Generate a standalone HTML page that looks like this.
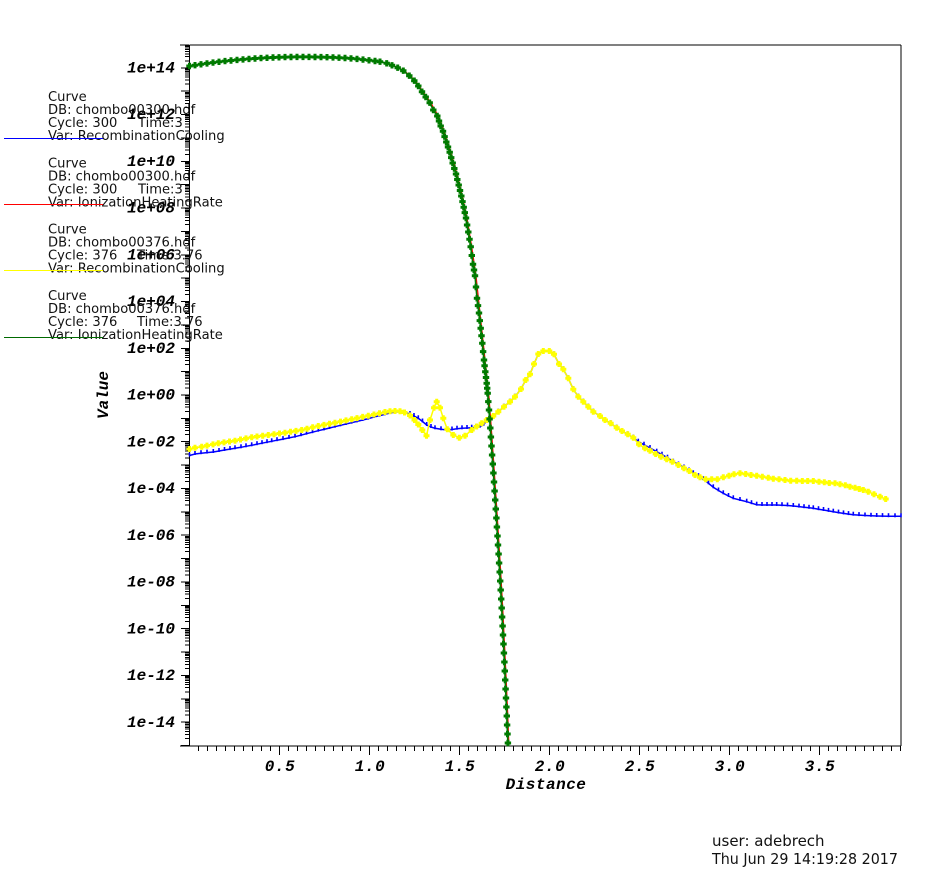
<!DOCTYPE html>
<html><head><meta charset="utf-8"><style>
html,body{margin:0;padding:0;background:#fff;}
svg{display:block;}
.lg{font-family:"DejaVu Sans","Liberation Sans",sans-serif;font-size:13.1px;fill:#111;}
.ax{font-family:"Liberation Mono",monospace;font-weight:bold;font-style:italic;font-size:16px;letter-spacing:0px;fill:#000;}
.ft{font-family:"DejaVu Sans","Liberation Sans",sans-serif;font-size:15px;fill:#111;}
</style></head><body>
<svg width="950" height="878" viewBox="0 0 950 878" xmlns="http://www.w3.org/2000/svg">
<defs>
<marker id="mY" markerUnits="userSpaceOnUse" markerWidth="10" markerHeight="10" refX="0" refY="0" overflow="visible"><path d="M-1.5,-3h3v1.5h1.5v3h-1.5v1.5h-3v-1.5h-1.5v-3h1.5z" fill="#ffff00"/></marker>
<marker id="mG" markerUnits="userSpaceOnUse" markerWidth="10" markerHeight="10" refX="0" refY="0" overflow="visible"><path d="M-1.5,-3.2h3v1.7h1.7v3h-1.7v1.7h-3v-1.7h-1.7v-3h1.7z" fill="#007a00"/></marker>
<marker id="mB" markerUnits="userSpaceOnUse" markerWidth="10" markerHeight="10" refX="0" refY="0" overflow="visible"><rect x="-0.8" y="-3" width="1.6" height="4" fill="#0000ff"/></marker>
<marker id="mR" markerUnits="userSpaceOnUse" markerWidth="10" markerHeight="10" refX="0" refY="0" overflow="visible"><rect x="-1" y="-1" width="2" height="2" fill="#ff0000"/></marker>
<g id="dec" stroke="#000" stroke-width="1" shape-rendering="crispEdges">
<path d="M181,0h8M185,-7.03h4M185,-11.15h4M185,-14.07h4M185,-16.33h4M185,-18.18h4M185,-19.75h4M185,-21.1h4M185,-22.3h4"/>
</g>
<g id="xm" stroke="#000" stroke-width="1" shape-rendering="crispEdges">
<path d="M9,746v5M18,746v5M27,746v5M36,746v5M45,746v5M54,746v5M63,746v5M72,746v5M81,746v5"/>
</g>
</defs>

<!-- frame -->
<g stroke="#000" stroke-width="1" fill="none" shape-rendering="crispEdges">
<path d="M189.5,45V746M189.5,45H901M901,45V746M180,746H901"/>
</g>

<!-- y ticks -->
<use href="#dec" y="745.55"/>
<use href="#dec" y="722.18"/>
<use href="#dec" y="698.81"/>
<use href="#dec" y="675.44"/>
<use href="#dec" y="652.07"/>
<use href="#dec" y="628.7"/>
<use href="#dec" y="605.33"/>
<use href="#dec" y="581.96"/>
<use href="#dec" y="558.59"/>
<use href="#dec" y="535.22"/>
<use href="#dec" y="511.85"/>
<use href="#dec" y="488.48"/>
<use href="#dec" y="465.11"/>
<use href="#dec" y="441.74"/>
<use href="#dec" y="418.37"/>
<use href="#dec" y="395"/>
<use href="#dec" y="371.63"/>
<use href="#dec" y="348.26"/>
<use href="#dec" y="324.89"/>
<use href="#dec" y="301.52"/>
<use href="#dec" y="278.15"/>
<use href="#dec" y="254.78"/>
<use href="#dec" y="231.41"/>
<use href="#dec" y="208.04"/>
<use href="#dec" y="184.67"/>
<use href="#dec" y="161.3"/>
<use href="#dec" y="137.93"/>
<use href="#dec" y="114.56"/>
<use href="#dec" y="91.19"/>
<use href="#dec" y="67.82"/>
<path d="M180,45h9" stroke="#000" shape-rendering="crispEdges"/>

<!-- x ticks -->
<use href="#xm" x="189.5"/>
<use href="#xm" x="279.5"/>
<use href="#xm" x="369.5"/>
<use href="#xm" x="459.5"/>
<use href="#xm" x="549.5"/>
<use href="#xm" x="639.5"/>
<use href="#xm" x="729.5"/>
<use href="#xm" x="819.5"/>
<path d="M279.5,746v9M369.5,746v9M459.5,746v9M549.5,746v9M639.5,746v9M729.5,746v9M819.5,746v9" stroke="#000" shape-rendering="crispEdges"/>

<!-- y labels -->
<g class="ax" text-anchor="end">
<text x="175" y="72.5">1e+14</text>
<text x="175" y="119.2">1e+12</text>
<text x="175" y="166">1e+10</text>
<text x="175" y="212.7">1e+08</text>
<text x="175" y="259.5">1e+06</text>
<text x="175" y="306.2">1e+04</text>
<text x="175" y="353">1e+02</text>
<text x="175" y="399.7">1e+00</text>
<text x="175" y="446.4">1e-02</text>
<text x="175" y="493.2">1e-04</text>
<text x="175" y="539.9">1e-06</text>
<text x="175" y="586.7">1e-08</text>
<text x="175" y="633.4">1e-10</text>
<text x="175" y="680.1">1e-12</text>
<text x="175" y="726.9">1e-14</text>
</g>
<!-- x labels -->
<g class="ax" text-anchor="middle" style="letter-spacing:0.6px">
<text x="280" y="771">0.5</text>
<text x="370" y="771">1.0</text>
<text x="460" y="771">1.5</text>
<text x="550" y="771">2.0</text>
<text x="640" y="771">2.5</text>
<text x="730" y="771">3.0</text>
<text x="820" y="771">3.5</text>
</g>
<text class="ax" x="546" y="789" text-anchor="middle" style="letter-spacing:0.5px">Distance</text>
<text class="ax" transform="translate(108,395) rotate(-90)" x="0" y="0" text-anchor="middle">Value</text>

<!-- blue: RecombinationCooling cycle 300 -->
<polyline fill="none" stroke="#0000ff" stroke-width="1.5" marker-start="url(#mB)" marker-mid="url(#mB)" marker-end="url(#mB)" points="189.5,455.5 195,454 201,453.2 207,452.6 213.3,452 219,451 224.5,450 230,449.1 235,448.3 241,447.3 246,446.3 251.7,445.3 257,444.2 262,443.2 267,442.2 271.7,441.3 277,440.2 283,439.1 289,437.9 295,436.7 301,435.2 306.5,433.7 312.5,432.2 318.3,430.7 324,429.4 329.5,428 335,426.7 340.5,425.3 346,424 351.7,422.7 357,421.4 362.7,420 368.3,418.6 374,417 379.5,415.7 385,414.3 390,413 395,412 400,411.7 405,412.5 410,414 414,416 418.3,418.3 422.5,421.5 426.7,425 431,427 435,428.3 441,429.3 446.7,430 452,429.5 457,428.7 462,428.3 467,428 471.7,427.7 476,427.2 480,426.7 484,424.5 486.7,420 493.3,416 498.3,411.7 504,406.7 510,401.7 515,396.7 521,389 525.7,380 530,374.3 534,364 538.3,354 543.3,351 549.3,351 554,354.3 559,364 563.3,369.3 568.3,378.3 573.3,389.3 578.3,396.7 583.3,401.7 588.3,406.7 593.3,411.7 600,416 605,420 610.7,423.3 616.7,427.7 622,431 627.7,434.3 633.3,437.7 638.3,441.7 644,444.7 650,448 656.7,451.7 662,454.7 667.5,457.7 673.3,461.7 678.5,464.5 684,467.5 689,470.5 693.3,473.3 698.5,476.2 703.3,479.3 708.5,483.3 713.3,487.3 718.5,490.5 723.3,493.3 728.5,496 733.3,498.3 740,500 746.7,501.7 751.5,503.2 756.7,504.7 762,505 767,505 772,505 776.7,505 782,505.2 787.5,505.5 793.3,506 799,506.6 804,507.2 809,507.8 813.3,508.3 818.5,509.2 823.5,510 828.5,510.9 833.3,511.7 838.5,512.6 843.5,513.4 848.5,514.1 853.3,514.7 859,515.1 865,515.5 871,515.8 876.7,516 882.5,516.1 888.5,516.2 895,516.3 901,516.3"/>

<!-- yellow: RecombinationCooling cycle 376 -->
<polyline fill="none" stroke="#ffff00" stroke-width="1.5" marker-start="url(#mY)" marker-mid="url(#mY)" marker-end="url(#mY)" points="189.5,449 195,447.8 201.7,446.7 207,445.6 213,444.4 218.3,443.3 224,442.4 229.5,441.5 235,440.7 240.5,439.5 246,438.4 251.7,437.3 257,436.5 262.7,435.8 268.3,435 274,434.2 279.5,433.5 285,432.7 290.5,431.8 296,430.9 301.7,430 307,428.7 312.7,427.3 318.3,426 324,424.9 329.5,423.8 335,422.7 340.5,421.6 346,420.4 351.7,419.3 357,418.1 362.7,416.9 368.3,415.7 374,414.5 379.5,413.2 385,412 390,411.3 395,411 400,411.3 404.5,412.5 410,415.5 414.5,420 418.3,424.5 422.3,430 426.5,435.7 430,420 434,407.7 436.7,401.7 440,407.7 443.3,418.3 447.3,429.3 453.3,435 459.3,437.7 465,435.7 471.7,430 476.7,426.5 481.7,423.3 486.7,420 493.3,416 498.3,411.7 504,406.7 510,401.7 515,396.7 521,389 525.7,380 530,374.3 534,364 538.3,354 543.3,351 549.3,351 554,354.3 559,364 563.3,369.3 568.3,378.3 573.3,389.3 578.3,396.7 583.3,401.7 588.3,406.7 593.3,411.7 600,416 605,420 610.7,423.3 616.7,427.7 622,431 627.7,434.3 633.3,437.7 639,444.3 645,448.3 650,450.7 655.7,454 661,456.7 666.7,459.3 672.3,461.7 678.3,465 684,468.3 689.3,471 695,475 700,477.3 705.7,479.3 711.7,479.3 717.3,479.3 723.3,477.3 729,475.7 734,474.3 740,473.3 745.7,474 751,475 756.7,475.7 762.3,476.7 768.3,477.7 773.3,478.7 779,479.3 785,480 790.7,480.7 796.7,480.7 802.3,481 807.7,481 813.3,481 819,481.7 824.3,482.3 829.3,483 835,483.3 840,484.3 845.3,485.3 850,486.7 855,487.7 859.3,489 863.3,490 868.3,491.7 874,494.3 880,496.7 885.7,499"/>

<!-- red: IonizationHeatingRate cycle 300 -->
<polyline fill="none" stroke="#ff0000" stroke-width="1.2" transform="translate(1,0)" marker-mid="url(#mR)" points="189.5,66 201,64.3 213,62.6 225,61.1 237,59.9 249,58.9 261,58.1 273,57.5 285,57.1 297,56.9 309,56.9 321,57.1 333,57.4 345,58 357,58.9 369,60.3 380,61.7 392,65.3 403.3,70.7 414.3,80.7 422,91.7 429.7,102.7 437.3,116 443,131.3 449.7,152.3 456,174 461.3,196 466,218 470.7,246.7 475,275.7 479,313 482.3,343.3 485.3,371.7 487.7,393.3 490.3,428 492.8,464 495.2,500 497.5,536 499.7,572 501.7,608 503.5,644 505.2,680 506.8,716 507.9,745"/>

<!-- green: IonizationHeatingRate cycle 376 -->
<polyline fill="none" stroke="#007a00" stroke-width="1.6" marker-start="url(#mG)" marker-mid="url(#mG)" marker-end="url(#mG)" points="189.5,66 195,65.2 201,64.3 207,63.4 213,62.6 219,61.8 225,61.1 231,60.5 237,59.9 243,59.4 249,58.9 255,58.5 261,58.1 267,57.8 273,57.5 279,57.3 285,57.1 291,57 297,56.9 303,56.9 309,56.9 315,57 321,57.1 327,57.2 333,57.4 339,57.7 345,58 351,58.4 357,58.9 363,59.6 369,60.3 375,61 380,61.7 386.7,63.3 392,65.3 397.7,67.7 403.3,70.7 409.3,75.7 414.3,80.7 418.3,86 422,91.7 425.7,97 429.7,102.7 433.3,110 437.3,116 439,121 440.7,126 443,131.3 444.6,136.6 446.3,142 448,147 449.7,152.3 451.2,157.6 452.7,163 454.3,168.5 456,174 457.3,179.5 458.7,185 460,190.5 461.3,196 462.5,201.6 463.7,207.3 464.8,212.6 466,218 467.1,225 468.3,232 469.5,239.3 470.7,246.7 471.8,255.5 473,264.3 474,270 475,275.7 476,287 477,298.3 478,305.6 479,313 479.8,320.6 480.7,328.3 481.5,335.8 482.3,343.3 483.1,351.6 484,360 484.6,365.8 485.3,371.7 486,377.5 486.7,383.3 487.2,388.3 487.7,393.3 488.3,401.6 489,410 489.6,419 490.3,428 490.9,437 491.5,446 492.1,455 492.8,464 493.4,473 494,482 494.6,491 495.2,500 495.8,509 496.4,518 496.9,527 497.5,536 498,545 498.6,554 499.1,563 499.7,572 500.2,581 500.7,590 501.2,599 501.7,608 502.1,617 502.6,626 503,635 503.5,644 503.9,653 504.4,662 504.8,671 505.2,680 505.6,689 506,698 506.4,707 506.8,716 507.1,725 507.5,734 507.9,743"/>

<!-- legend -->
<g class="lg">
<text x="48" y="101">Curve</text>
<text x="48" y="114">DB: chombo00300.hdf</text>
<text x="48" y="127">Cycle: 300</text><text x="138" y="127">Time:3</text>
<text x="48" y="140">Var: RecombinationCooling</text>

<text x="48" y="167.3">Curve</text>
<text x="48" y="180.3">DB: chombo00300.hdf</text>
<text x="48" y="193.3">Cycle: 300</text><text x="138" y="193.3">Time:3</text>
<text x="48" y="206.3">Var: IonizationHeatingRate</text>

<text x="48" y="233.6">Curve</text>
<text x="48" y="246.6">DB: chombo00376.hdf</text>
<text x="48" y="259.6">Cycle: 376</text><text x="137" y="259.6">Time:3.76</text>
<text x="48" y="272.6">Var: RecombinationCooling</text>

<text x="48" y="300">Curve</text>
<text x="48" y="313">DB: chombo00376.hdf</text>
<text x="48" y="326">Cycle: 376</text><text x="137" y="326">Time:3.76</text>
<text x="48" y="339">Var: IonizationHeatingRate</text>
</g>
<g shape-rendering="crispEdges" stroke-width="1">
<path d="M4,138.5H103" stroke="#0000ff"/>
<path d="M4,204.5H103" stroke="#ff0000"/>
<path d="M4,270.5H103" stroke="#ffff00"/>
<path d="M4,337.5H103" stroke="#006a00"/>
</g>

<!-- footer -->
<text class="ft" x="712" y="846">user: adebrech</text>
<text class="ft" x="712" y="864" textLength="186" lengthAdjust="spacingAndGlyphs">Thu Jun 29 14:19:28 2017</text>
</svg>
</body></html>
